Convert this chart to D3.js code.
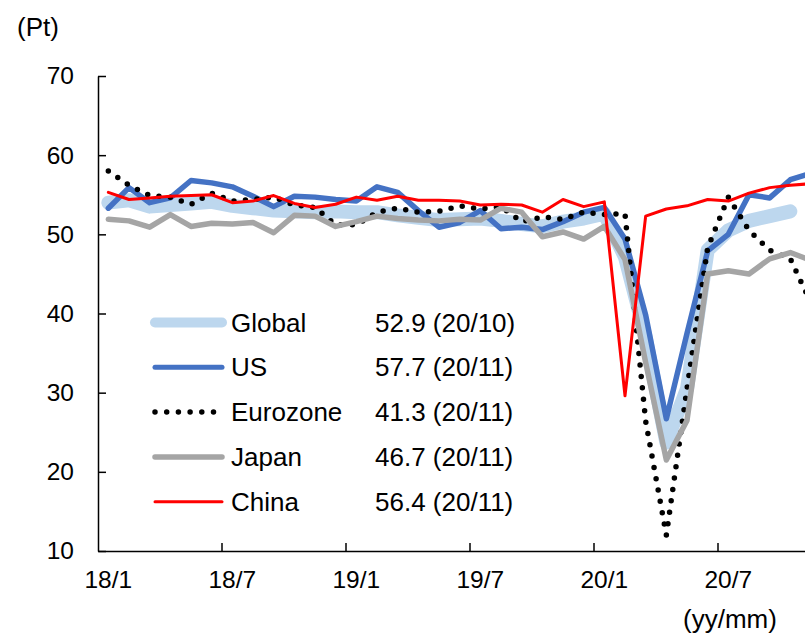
<!DOCTYPE html>
<html>
<head>
<meta charset="utf-8">
<script src="https://cdn.jsdelivr.net/npm/d3@7"></script>
<style>
  html, body { margin: 0; padding: 0; background: #fff; }
  svg { display: block; font-family: Arial, "Liberation Sans", sans-serif; }
</style>
</head>
<body>
<svg id="chart" width="805" height="635"></svg>
<script>
// Monthly categories, 2018/1 .. 2020/11
const months = [
  "18/1","18/2","18/3","18/4","18/5","18/6","18/7","18/8","18/9","18/10","18/11","18/12",
  "19/1","19/2","19/3","19/4","19/5","19/6","19/7","19/8","19/9","19/10","19/11","19/12",
  "20/1","20/2","20/3","20/4","20/5","20/6","20/7","20/8","20/9","20/10","20/11"
];
const tickLabels = ["18/1","18/7","19/1","19/7","20/1","20/7"];
const yTicks = [10, 20, 30, 40, 50, 60, 70];

// Services PMI by region (Pt)
const globalPmi = [
  54.0, 54.3, 53.5, 53.7, 53.9, 54.1, 53.6, 53.3, 53.0, 52.9, 52.8, 52.9,
  52.8, 52.8, 52.4, 52.1, 51.8, 51.9, 52.0, 51.7, 51.3, 51.0, 51.6, 52.0,
  52.6, 47.1, 37.0, 23.7, 30.5, 48.0, 50.5, 51.7, 52.3, 52.9, null
];
const usPmi = [
  53.3, 55.9, 54.0, 54.6, 56.8, 56.5, 56.0, 54.8, 53.5, 54.8, 54.7, 54.4,
  54.2, 56.0, 55.3, 53.0, 50.9, 51.5, 53.0, 50.7, 50.9, 50.6, 51.6, 52.8,
  53.4, 49.4, 39.8, 26.7, 37.5, 47.9, 50.0, 55.0, 54.6, 56.9, 57.7
];
const eurozonePmi = [
  58.0, 56.2, 54.9, 54.7, 53.8, 55.2, 54.2, 54.4, 54.7, 53.7, 53.4, 51.2,
  51.2, 52.8, 53.3, 52.8, 52.9, 53.6, 53.2, 53.5, 51.6, 52.2, 51.9, 52.8,
  52.5, 52.6, 26.4, 12.0, 30.5, 48.3, 54.7, 50.5, 48.0, 46.9, 41.3
];
const japanPmi = [
  51.9, 51.7, 50.9, 52.5, 51.0, 51.4, 51.3, 51.5, 50.2, 52.4, 52.3, 51.0,
  51.6, 52.3, 52.0, 51.8, 51.7, 51.9, 51.8, 53.3, 52.8, 49.7, 50.3, 49.4,
  51.0, 46.8, 33.8, 21.5, 26.5, 45.0, 45.4, 45.0, 46.9, 47.7, 46.7
];
const chinaPmi = [
  55.3, 54.4, 54.6, 54.8, 54.9, 55.0, 54.0, 54.2, 54.9, 53.9, 53.4, 53.8,
  54.7, 54.3, 54.8, 54.3, 54.3, 54.2, 53.7, 53.8, 53.7, 52.8, 54.4, 53.5,
  54.1, 29.6, 52.3, 53.2, 53.6, 54.4, 54.2, 55.2, 55.9, 56.2, 56.4
];

const seriesNames = ["Global", "US", "Eurozone", "Japan", "China"];
const latestLabels = ["52.9 (20/10)", "57.7 (20/11)", "41.3 (20/11)", "46.7 (20/11)", "56.4 (20/11)"];

// Line styles per series
const styles = [
  { color: "#BDD7EE", width: 14, dash: null, legendWidth: 10 },
  { color: "#4472C4", width: 5.5, dash: null, legendWidth: 5 },
  { color: "#000000", width: 5.5, dash: "0 11.5", legendWidth: 5.5 },
  { color: "#A5A5A5", width: 5.5, dash: null, legendWidth: 5.5 },
  { color: "#FF0000", width: 3, dash: null, legendWidth: 3 }
];

const seriesValues = [globalPmi, usPmi, eurozonePmi, japanPmi, chinaPmi];

const svg = d3.select("#chart");

const plotLeft = 98, plotBottom = 551, plotTop = 76;
const monthWidth = 124 / 6;
const tickFont = 24.5, textFont = 26;

const x = d3.scaleBand()
  .domain(months)
  .range([plotLeft, plotLeft + months.length * monthWidth])
  .paddingInner(0).paddingOuter(0);

const y = d3.scaleLinear().domain([10, 70]).range([plotBottom, plotTop]);

const cx = m => x(m) + x.bandwidth() / 2;

// Lines
const line = d3.line()
  .defined(d => d.v != null)
  .x(d => cx(d.m))
  .y(d => y(d.v));

seriesValues.forEach((vals, i) => {
  const st = styles[i];
  const data = months.map((m, k) => ({ m, v: vals[k] }));
  svg.append("path")
    .datum(data)
    .attr("d", line)
    .attr("fill", "none")
    .attr("stroke", st.color)
    .attr("stroke-width", st.width)
    .attr("stroke-linecap", "round")
    .attr("stroke-linejoin", "round")
    .attr("stroke-dasharray", st.dash);
});

// Y axis
const yAxis = svg.append("g")
  .attr("transform", `translate(${plotLeft},0)`)
  .call(d3.axisLeft(y).tickValues(yTicks).tickSize(-8).tickSizeOuter(0).tickPadding(24));
yAxis.select(".domain").attr("stroke", "#000").attr("stroke-width", 1.5);
yAxis.selectAll(".tick line").attr("stroke", "#000").attr("stroke-width", 1.5);
yAxis.selectAll(".tick text")
  .attr("font-size", tickFont).attr("fill", "#000")
  .attr("font-family", "Arial, 'Liberation Sans', sans-serif");

// X axis: labels at month centres, tick marks at half-year boundaries
const xAxis = svg.append("g")
  .attr("transform", `translate(0,${plotBottom})`)
  .call(d3.axisBottom(x).tickValues(tickLabels).tickSize(0).tickSizeOuter(0).tickPadding(20));
xAxis.select(".domain").attr("stroke", "#000").attr("stroke-width", 1.5);
xAxis.selectAll(".tick text")
  .attr("font-size", tickFont).attr("fill", "#000")
  .attr("font-family", "Arial, 'Liberation Sans', sans-serif");

svg.append("g").selectAll("line")
  .data(tickLabels.slice(1))
  .join("line")
  .attr("x1", d => x(d)).attr("x2", d => x(d))
  .attr("y1", plotBottom).attr("y2", plotBottom - 8)
  .attr("stroke", "#000").attr("stroke-width", 1.5);

// Unit labels
svg.append("text").attr("x", 17).attr("y", 36)
  .attr("font-size", textFont).attr("fill", "#000").text("(Pt)");
svg.append("text").attr("x", 730).attr("y", 628).attr("text-anchor", "middle")
  .attr("font-size", textFont).attr("fill", "#000").text("(yy/mm)");

// Legend
const legend = svg.append("g");
seriesNames.forEach((name, i) => {
  const st = styles[i];
  const ly = 322.5 + i * 44.8;
  legend.append("line")
    .attr("x1", 155).attr("x2", 222)
    .attr("y1", ly).attr("y2", ly)
    .attr("stroke", st.color)
    .attr("stroke-width", st.legendWidth)
    .attr("stroke-linecap", "round")
    .attr("stroke-dasharray", st.dash ? "0 11.7" : null);
  legend.append("text")
    .attr("x", 231).attr("y", ly + 9)
    .attr("font-size", textFont).attr("fill", "#000").text(name);
  legend.append("text")
    .attr("x", 375).attr("y", ly + 9)
    .attr("font-size", textFont).attr("fill", "#000").text(latestLabels[i]);
});
</script>
</body>
</html>
